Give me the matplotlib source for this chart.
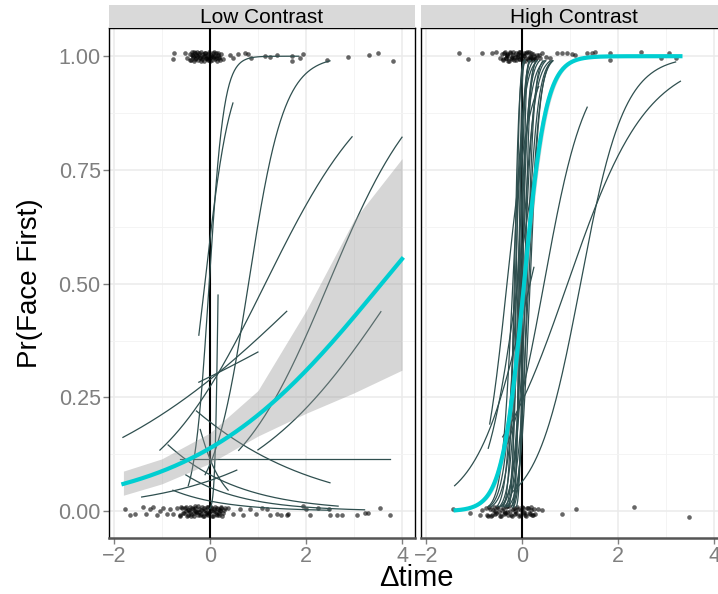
import matplotlib.pyplot as plt
import numpy as np

plt.rcParams["font.family"] = ["Liberation Sans", "DejaVu Sans"]

panels = ["Low Contrast", "High Contrast"]

# group fit (logit scale): intercept, slope, x range
lc_fit = (-1.83, 0.512, -1.8, 4.0)
hc_fit = (-0.20, 4.4, -1.38, 3.3)

# low contrast confidence band, read at a few x values
lc_band_x = [-1.8, -1.0, 0.0, 1.0, 2.0, 3.0, 4.0]
lc_band_lo = [0.035, 0.060, 0.105, 0.165, 0.215, 0.260, 0.310]
lc_band_hi = [0.088, 0.115, 0.172, 0.265, 0.440, 0.640, 0.775]
# high contrast band is narrow: intercepts of its two edges
hc_band_int = (-0.40, 0.02)

# per-subject fits, low contrast
lc_int = [0.10, 0.39, -2.17, -0.98, -0.90, -2.47, -2.49, -5.2, -0.87, -2.04,
          -1.41, -2.44, -2.63, -3.78, -2.04, -2.90]
lc_slope = [6.5, 3.7, 2.7, 0.85, 0.41, 1.0, 0.63, 30.0, 0.25, 0.0,
            -0.52, -0.77, 0.57, -0.97, -2.6, -0.905]
lc_xmin = [-0.45, -0.23, -0.10, -1.04, -1.81, 0.60, 1.00, 0.00, -0.23, -0.63,
           -0.28, -0.87, -1.42, -0.77, -0.20, -0.50]
lc_xmax = [1.85, 0.48, 2.50, 2.96, 1.60, 4.00, 3.56, 0.17, 1.00, 3.75,
           2.50, 2.67, 0.56, 2.50, 0.38, 3.22]

# per-subject fits, high contrast (x at p = 0.5, slope)
hc_mid = [-0.19, -0.16, -0.14, -0.12, -0.10, -0.08, -0.06, -0.05, -0.03, -0.02,
          0.00, 0.02, 0.04, 0.06, 0.09, 0.11, 0.14, 0.17,
          0.95, 1.22, 0.46, 0.17, -0.09, -0.31]
hc_slope = [9, 20, 12, 30, 8, 18, 40, 11, 25, 7.5,
            15, 35, 10, 20, 8.5, 14, 9, 10,
            1.21, 2.2, 2.3, 1.8, 3.0, 4.0]
hc_xmin = [-0.70, -0.39, -0.52, -0.27, -0.68, -0.34, -0.18, -0.47, -0.21, -0.63,
           -0.31, -0.11, -0.42, -0.17, -0.45, -0.22, -0.37, -0.29,
           -0.40, -0.20, -0.30, -1.40, -0.70, -0.67]
hc_xmax = [0.32, 0.07, 0.24, 0.03, 0.48, 0.18, 0.06, 0.37, 0.15, 0.59,
           0.31, 0.15, 0.50, 0.29, 0.63, 0.44, 0.65, 0.63,
           3.30, 3.20, 1.36, 0.25, 0.40, 0.35]

# jittered responses
lc_top_x = [-0.76, -0.75, -0.52, -0.48, -0.42, -0.40, -0.37, -0.35, -0.33, -0.30,
            -0.28, -0.26, -0.24, -0.22, -0.20, -0.18, -0.16, -0.14, -0.12, -0.10,
            -0.08, -0.06, -0.04, -0.02, 0.00, 0.02, 0.04, 0.06, 0.08, 0.10,
            0.12, 0.14, 0.17, 0.20, 0.24, 0.27, 0.42, 0.48, 0.59, 0.73,
            0.80, 0.86, 1.15, 1.26, 1.39, 1.70, 1.70, 1.88, 1.94, 2.43,
            2.88, 3.32, 3.50, 3.81,
            -0.41, -0.38, -0.34, -0.31, -0.27, -0.23, -0.19, -0.15, -0.11, -0.07,
            -0.03, 0.01, 0.05, 0.09, 0.13, 0.16, 0.19, 0.22, -0.36, -0.29,
            -0.21, -0.13, -0.05, 0.03, 0.11]
lc_top_y = [0.993, 1.008, 1.008, 0.997, 1.005, 0.992, 1.010, 0.999, 0.990, 1.006,
            0.995, 1.009, 0.991, 1.002, 0.996, 1.010, 0.993, 1.004, 0.990, 1.008,
            0.997, 1.001, 0.992, 1.009, 0.995, 1.003, 0.991, 1.007, 0.998, 0.993,
            1.006, 0.990, 1.002, 0.996, 1.004, 0.993, 1.002, 0.997, 1.004, 1.006,
            1.004, 0.997, 1.000, 0.998, 1.002, 1.001, 0.990, 0.997, 1.004, 0.992,
            0.998, 1.003, 1.008, 0.990,
            0.991, 1.003, 1.009, 0.994, 1.001, 1.007, 0.990, 0.999, 1.006, 0.993,
            1.004, 0.990, 1.000, 1.009, 0.995, 1.008, 0.998, 0.991, 1.000, 1.002,
            0.998, 1.001, 0.996, 0.999, 1.001]
lc_bot_x = [-1.77, -1.67, -1.56, -1.39, -1.32, -1.25, -1.18, -1.11, -1.04, -0.97,
            -0.90, -0.83, -0.76, -0.69, -0.63, -0.60, -0.56, -0.52, -0.48, -0.45,
            -0.42, -0.39, -0.36, -0.33, -0.30, -0.27, -0.24, -0.21, -0.18, -0.15,
            -0.12, -0.09, -0.06, -0.03, 0.00, 0.03, 0.06, 0.09, 0.12, 0.15,
            0.18, 0.21, 0.24, 0.27, 0.31, 0.38, 0.49, 0.63, 0.69, 0.83,
            0.97, 1.08, 1.18, 1.25, 1.39, 1.49, 1.60, 1.62, 1.94, 2.01,
            2.08, 2.26, 2.47, 2.50, 2.64, 2.74, 3.06, 3.23, 3.30, 3.54,
            3.75,
            -0.62, -0.58, -0.54, -0.50, -0.46, -0.43, -0.40, -0.37, -0.34, -0.31,
            -0.28, -0.25, -0.22, -0.19, -0.16, -0.13, -0.10, -0.07, -0.04, -0.01,
            0.02, 0.05, 0.08, 0.11, 0.14, 0.17, 0.20, 0.23, 0.26, 0.29,
            -0.50, -0.41, -0.32, -0.23, -0.14, -0.05, 0.04, 0.13, 0.22]
lc_bot_y = [0.004, -0.009, -0.006, 0.009, -0.006, 0.004, 0.009, -0.009, 0.000, 0.007,
            -0.006, 0.004, -0.006, 0.007, -0.009, 0.010, -0.004, 0.006, -0.010, 0.002,
            0.009, -0.007, 0.004, -0.011, 0.008, -0.002, 0.011, -0.008, 0.003, -0.010,
            0.006, -0.004, 0.010, -0.008, 0.001, 0.009, -0.011, 0.005, -0.006, 0.008,
            -0.009, 0.003, 0.010, -0.005, 0.006, 0.007, -0.006, 0.004, -0.009, 0.004,
            -0.006, 0.007, 0.004, -0.009, -0.006, -0.009, -0.009, -0.006, 0.011, 0.004,
            -0.009, 0.007, 0.004, -0.009, -0.009, -0.009, -0.009, -0.004, -0.005, 0.006,
            -0.009,
            -0.010, 0.006, -0.003, 0.010, -0.008, 0.002, -0.011, 0.007, -0.005, 0.011,
            -0.001, -0.009, 0.005, -0.006, 0.009, -0.011, 0.003, -0.007, 0.010, -0.004,
            0.006, -0.010, 0.001, 0.009, -0.008, 0.004, -0.005, 0.008, -0.011, 0.002,
            0.000, -0.002, 0.001, -0.001, 0.000, -0.002, 0.001, -0.001, 0.000]
hc_top_x = [-1.30, -1.13, -0.82, -0.63, -0.53, -0.46, -0.42, -0.39, -0.36, -0.33,
            -0.30, -0.27, -0.24, -0.21, -0.18, -0.15, -0.12, -0.09, -0.06, -0.03,
            0.00, 0.03, 0.06, 0.09, 0.12, 0.15, 0.18, 0.21, 0.24, 0.28,
            0.32, 0.37, 0.42, 0.50, 0.59, 0.73, 0.83, 0.93, 1.04, 1.11,
            1.35, 1.45, 1.53, 1.84, 1.84, 2.47, 2.89, 3.06, 3.20,
            -0.40, -0.37, -0.34, -0.31, -0.28, -0.25, -0.22, -0.19, -0.16, -0.13,
            -0.10, -0.07, -0.04, -0.01, 0.02, 0.05, 0.08, 0.11, 0.14, 0.17,
            0.20, 0.23, 0.26, 0.30, 0.35, -0.32, -0.20, -0.08, 0.04, 0.16]
hc_top_y = [1.008, 0.993, 1.008, 1.006, 1.010, 0.995, 1.004, 0.991, 1.009, 0.996,
            1.002, 0.990, 1.007, 0.994, 1.010, 0.998, 0.991, 1.005, 0.993, 1.009,
            0.996, 1.003, 0.990, 1.007, 0.994, 1.010, 0.997, 0.991, 1.005, 0.993,
            1.002, 0.996, 1.006, 0.999, 0.995, 1.008, 1.006, 1.008, 1.004, 1.002,
            1.006, 1.008, 1.010, 1.008, 0.992, 1.010, 0.997, 1.008, 0.995,
            0.993, 1.008, 0.997, 1.004, 0.990, 1.009, 0.995, 1.002, 0.991, 1.007,
            0.998, 1.010, 0.994, 1.003, 0.990, 1.006, 0.996, 1.009, 0.992, 1.001,
            1.007, 0.994, 1.000, 0.997, 1.003, 1.000, 0.999, 1.001, 1.000, 0.998]
hc_bot_x = [-1.44, -1.09, -0.88, -0.84, -0.74, -0.70, -0.66, -0.62, -0.58, -0.54,
            -0.50, -0.46, -0.42, -0.38, -0.34, -0.30, -0.26, -0.22, -0.18, -0.14,
            -0.10, -0.06, -0.02, 0.02, 0.06, 0.10, 0.14, 0.18, 0.22, 0.26,
            0.28, 0.34, 0.41, 0.83, 1.12, 2.33, 3.48,
            -0.72, -0.68, -0.64, -0.60, -0.56, -0.52, -0.48, -0.44, -0.40, -0.36,
            -0.32, -0.28, -0.24, -0.20, -0.16, -0.12, -0.08, -0.04, 0.00, 0.04,
            0.08, 0.12, 0.16, 0.20, 0.24, -0.55, -0.35, -0.15, 0.05]
hc_bot_y = [0.004, -0.004, -0.009, 0.002, 0.007, -0.010, 0.005, -0.008, 0.010, -0.004,
            0.008, -0.011, 0.003, -0.007, 0.009, -0.002, 0.011, -0.009, 0.005, -0.006,
            0.010, -0.010, 0.002, 0.008, -0.008, 0.006, -0.003, 0.010, -0.009, 0.004,
            -0.006, 0.004, 0.002, -0.007, 0.005, 0.010, -0.012,
            -0.008, 0.009, -0.011, 0.003, -0.006, 0.010, -0.002, -0.010, 0.006, -0.004,
            0.011, -0.008, 0.001, -0.011, 0.008, -0.005, 0.004, -0.009, 0.010, -0.003,
            -0.010, 0.007, -0.007, 0.002, -0.009, 0.000, -0.001, 0.001, -0.002]

XLIM = (-2.10, 4.27)
YLIM = (-0.059, 1.062)
W, H = 718, 594
CURVE = "#2F4F4F"
CYAN = "#00CED1"


def logistic(z):
    return 1.0 / (1.0 + np.exp(-z))


def rect(left, top, right, bottom):
    return [left / W, 1 - bottom / H, (right - left) / W, (bottom - top) / H]


fig = plt.figure(figsize=(W / 100, H / 100), dpi=100)
ax1 = fig.add_axes(rect(109, 28, 415, 538))
ax2 = fig.add_axes(rect(421, 28, 727, 538))

for ax, name, left, right in [(ax1, panels[0], 109, 415), (ax2, panels[1], 421, 727)]:
    strip = fig.add_axes(rect(left, 5, right, 27.5))
    strip.set_facecolor("#D9D9D9")
    strip.set_xticks([])
    strip.set_yticks([])
    for s in strip.spines.values():
        s.set_visible(False)
    strip.text(0.5, 0.45, name, ha="center", va="center", fontsize=15,
               transform=strip.transAxes)

    ax.set_xlim(*XLIM)
    ax.set_ylim(*YLIM)
    ax.set_xticks([-2, 0, 2, 4])
    ax.set_xticks([-1, 1, 3], minor=True)
    ax.set_yticks([0, 0.25, 0.5, 0.75, 1.0])
    ax.set_yticks([0.125, 0.375, 0.625, 0.875], minor=True)
    ax.set_xticklabels(["\u22122", "0", "2", "4"])
    ax.set_yticklabels(["0.00", "0.25", "0.50", "0.75", "1.00"])
    ax.grid(which="major", color="#EBEBEB", lw=1.1)
    ax.grid(which="minor", color="#F3F3F3", lw=0.6)
    ax.set_axisbelow(True)
    ax.tick_params(which="minor", length=0)
    ax.tick_params(which="major", length=4, width=1, color="#808080",
                   labelcolor="#7F7F7F", labelsize=15.5, pad=2)
    for s in ax.spines.values():
        s.set_color("black")
        s.set_linewidth(1.0)
    ax.spines["bottom"].set_color("#555555")
    ax.spines["bottom"].set_linewidth(1.8)

ax2.tick_params(axis="y", left=False, labelleft=False)

# responses
pt = dict(s=11, color="black", alpha=0.6, lw=0, zorder=2)
ax1.scatter(lc_top_x, lc_top_y, **pt)
ax1.scatter(lc_bot_x, lc_bot_y, **pt)
ax2.scatter(hc_top_x, hc_top_y, **pt)
ax2.scatter(hc_bot_x, hc_bot_y, **pt)

for ax in (ax1, ax2):
    ax.axvline(0, color="black", lw=1.5, zorder=3)

# subject curves
for b0, b1, x0, x1 in zip(lc_int, lc_slope, lc_xmin, lc_xmax):
    xs = np.linspace(x0, x1, 200)
    ax1.plot(xs, logistic(b0 + b1 * xs), color=CURVE, lw=0.9, zorder=4)
for m, b1, x0, x1 in zip(hc_mid, hc_slope, hc_xmin, hc_xmax):
    xs = np.linspace(x0, x1, 200)
    ax2.plot(xs, logistic(b1 * (xs - m)), color=CURVE, lw=0.9, zorder=4)

# group fits with bands
ax1.fill_between(lc_band_x, lc_band_lo, lc_band_hi, color="#999999", alpha=0.4,
                 lw=0, zorder=5)
b0, b1, x0, x1 = lc_fit
xs = np.linspace(x0, x1, 200)
ax1.plot(xs, logistic(b0 + b1 * xs), color=CYAN, lw=3, zorder=6)

b0, b1, x0, x1 = hc_fit
xs = np.linspace(x0, x1, 300)
ax2.fill_between(xs, logistic(hc_band_int[0] + b1 * xs), logistic(hc_band_int[1] + b1 * xs),
                 color="#999999", alpha=0.4, lw=0, zorder=5)
ax2.plot(xs, logistic(b0 + b1 * xs), color=CYAN, lw=3, zorder=6)

fig.text(416 / W, 1 - 586 / H, "\u0394time", ha="center", va="baseline", fontsize=21)
fig.text(30 / W, 1 - 283 / H, "Pr(Face First)", ha="center", va="center",
         rotation=90, fontsize=20)

fig.savefig("out.png", dpi=100)
